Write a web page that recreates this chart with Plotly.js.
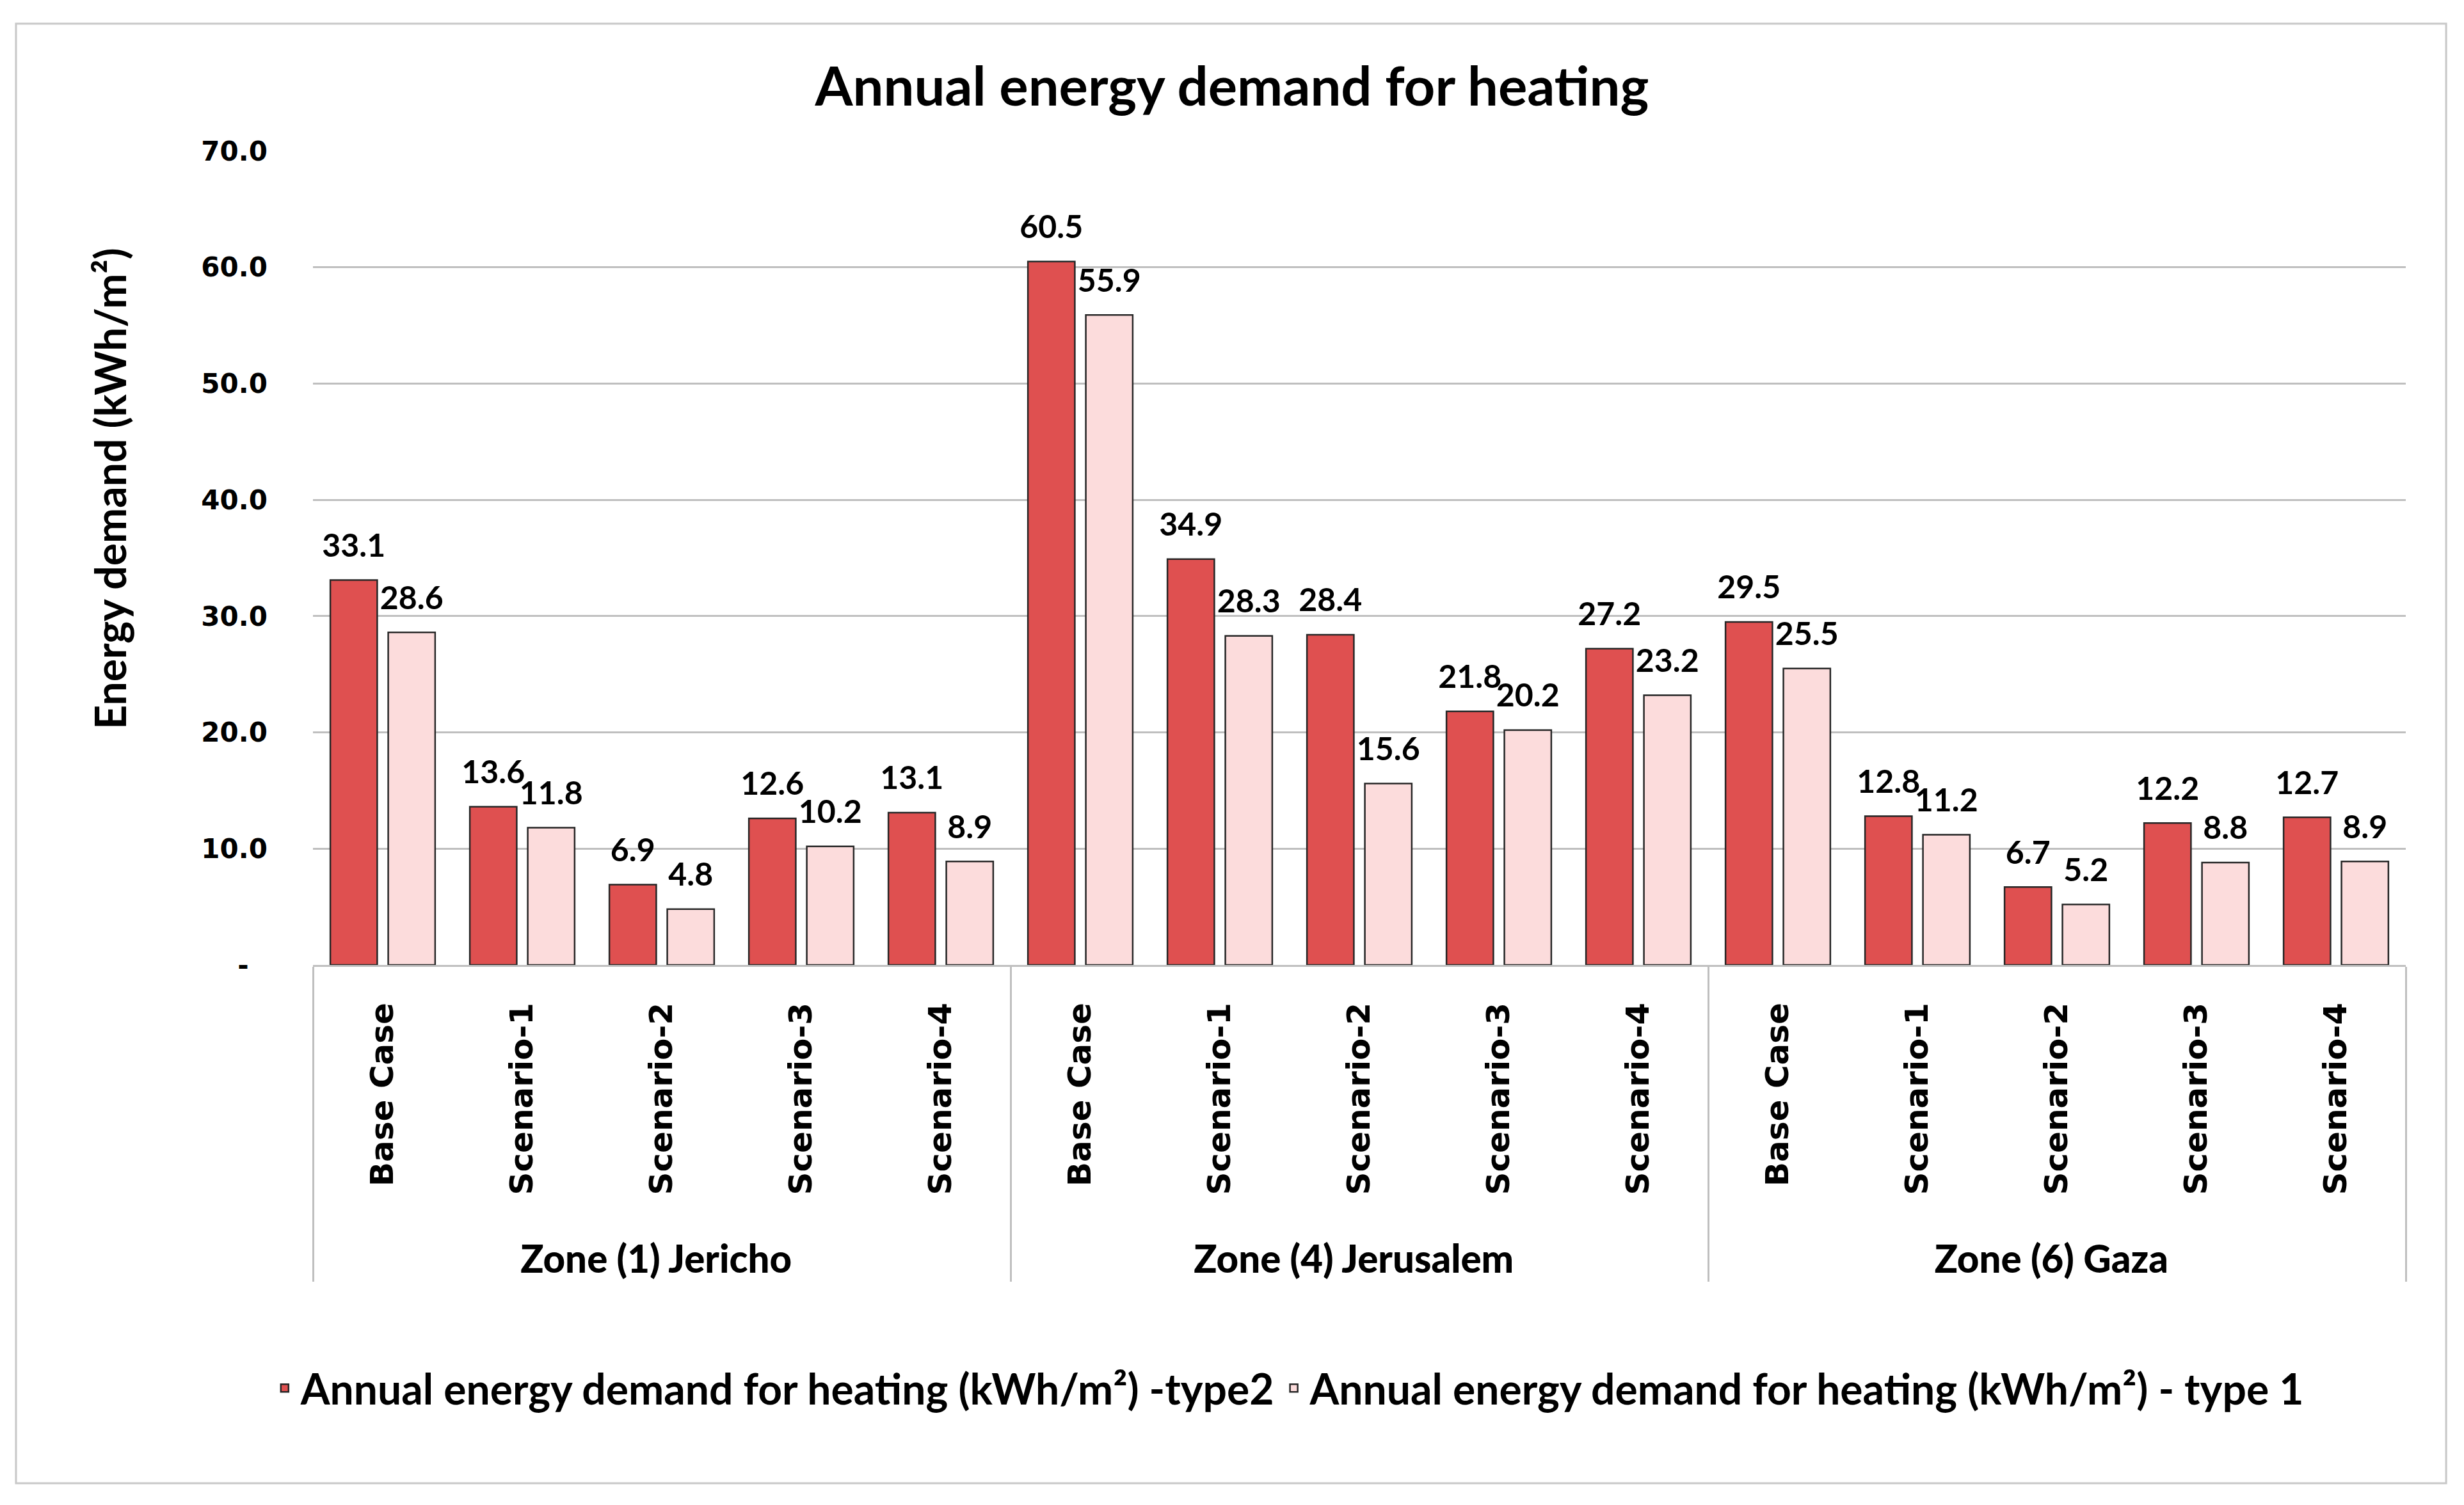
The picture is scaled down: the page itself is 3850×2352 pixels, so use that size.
<!DOCTYPE html>
<html>
<head>
<meta charset="utf-8">
<script src="https://cdn.plot.ly/plotly-3.0.1.min.js"></script>
<style>html,body{margin:0;padding:0;background:#fff;}#chart{width:3850px;height:2352px;}</style>
</head>
<body>
<div id="chart"></div>
<script>
const zones = ['Zone (1) Jericho', 'Zone (4) Jerusalem', 'Zone (6) Gaza'];
const scenarios = ['Base Case', 'Scenario-1', 'Scenario-2', 'Scenario-3', 'Scenario-4'];
const type2 = [33.1, 13.6, 6.9, 12.6, 13.1, 60.5, 34.9, 28.4, 21.8, 27.2, 29.5, 12.8, 6.7, 12.2, 12.7];
const type1 = [28.6, 11.8, 4.8, 10.2, 8.9, 55.9, 28.3, 15.6, 20.2, 23.2, 25.5, 11.2, 5.2, 8.8, 8.9];
const seriesNames = ['Annual energy demand for heating (kWh/m²) -type2', 'Annual energy demand for heating (kWh/m²) - type 1'];
const yTickVals = [0, 10, 20, 30, 40, 50, 60, 70];
const yTickText = ['-\u2007', '10.0', '20.0', '30.0', '40.0', '50.0', '60.0', '70.0'];

// zone labels are shown one line lower and in the label font of the original
const zoneLabel = z => '<br><b><span style="font-family:Lato;font-weight:900;font-size:60px">' + z + '</span></b>';
const zoneCol = [], scenCol = [];
zones.forEach(z => scenarios.forEach(s => { zoneCol.push(zoneLabel(z)); scenCol.push(s); }));
const xCats = [zoneCol, scenCol];

const labelFont = {family: 'Lato, sans-serif', size: 50, color: '#000', weight: 'bold'};
function barTrace(name, vals, color) {
  return {
    type: 'bar', name: name, x: xCats, y: vals,
    marker: {color: color, line: {color: '#262626', width: 2.5}},
    hoverinfo: 'skip'
  };
}
function labelTrace(vals) {
  return {
    type: 'scatter', mode: 'markers+text', x: xCats, y: vals, showlegend: false,
    text: vals.map(v => v.toFixed(1)), textposition: 'top center', textfont: labelFont,
    marker: {size: 37, color: 'rgba(0,0,0,0)'}, cliponaxis: false, hoverinfo: 'skip'
  };
}
const data = [
  barTrace(seriesNames[0], type2, '#DF5050'),
  barTrace(seriesNames[1], type1, '#FCDCDC'),
  labelTrace(type2),
  labelTrace(type1)
];

const layout = {
  width: 3850, height: 2352,
  paper_bgcolor: '#fff', plot_bgcolor: '#fff',
  margin: {l: 489, r: 91, t: 236, b: 844, pad: 0},
  barmode: 'group', bargap: 0.17, bargroupgap: 0.19,
  scattermode: 'group', scattergap: 0.17,
  showlegend: true,
  title: {text: 'Annual energy demand for heating', x: 0.5, xref: 'container', xanchor: 'center',
          y: 1 - 135 / 2352, yref: 'container', yanchor: 'middle',
          font: {family: 'Lato, sans-serif', size: 85, color: '#000', weight: 'bold'}},
  xaxis: {
    type: 'multicategory', tickangle: -90,
    tickfont: {family: 'DejaVu Sans', size: 50, color: '#000', weight: 'bold'},
    showline: true, linecolor: '#BFBFBF', linewidth: 3,
    showgrid: false, ticks: '', showdividers: true, dividercolor: '#BFBFBF', dividerwidth: 3,
    ticklabelstandoff: 36
  },
  yaxis: {
    range: [0, 70], tickvals: yTickVals, ticktext: yTickText,
    tickfont: {family: 'DejaVu Sans', size: 42, color: '#000', weight: 'bold'},
    showgrid: true, gridcolor: '#BFBFBF', gridwidth: 3, zeroline: false,
    showline: false, ticks: '', ticklabelstandoff: 70
  },
  legend: {orientation: 'h', x: 0.466, xanchor: 'center', y: -0.52, yanchor: 'middle',
           font: {family: 'Lato, sans-serif', size: 66, color: '#000', weight: 'bold'},
           traceorder: 'normal', itemwidth: 40},
  annotations: [{
    text: 'Energy demand (kWh/m²)', xref: 'paper', yref: 'paper', x: -0.097, y: 0.585,
    xanchor: 'center', yanchor: 'middle', textangle: -90, showarrow: false,
    font: {family: 'Lato, sans-serif', size: 66, color: '#000', weight: 'bold'}
  }],
  shapes: [{
    type: 'rect', xref: 'paper', yref: 'paper', x0: -0.1419, x1: 1.0193, y0: -0.6368, y1: 1.1565,
    line: {color: '#C8C8C8', width: 3}, fillcolor: 'rgba(0,0,0,0)', layer: 'below'
  }]
};

Plotly.newPlot('chart', data, layout, {displayModeBar: false, staticPlot: true});
</script>
</body>
</html>
